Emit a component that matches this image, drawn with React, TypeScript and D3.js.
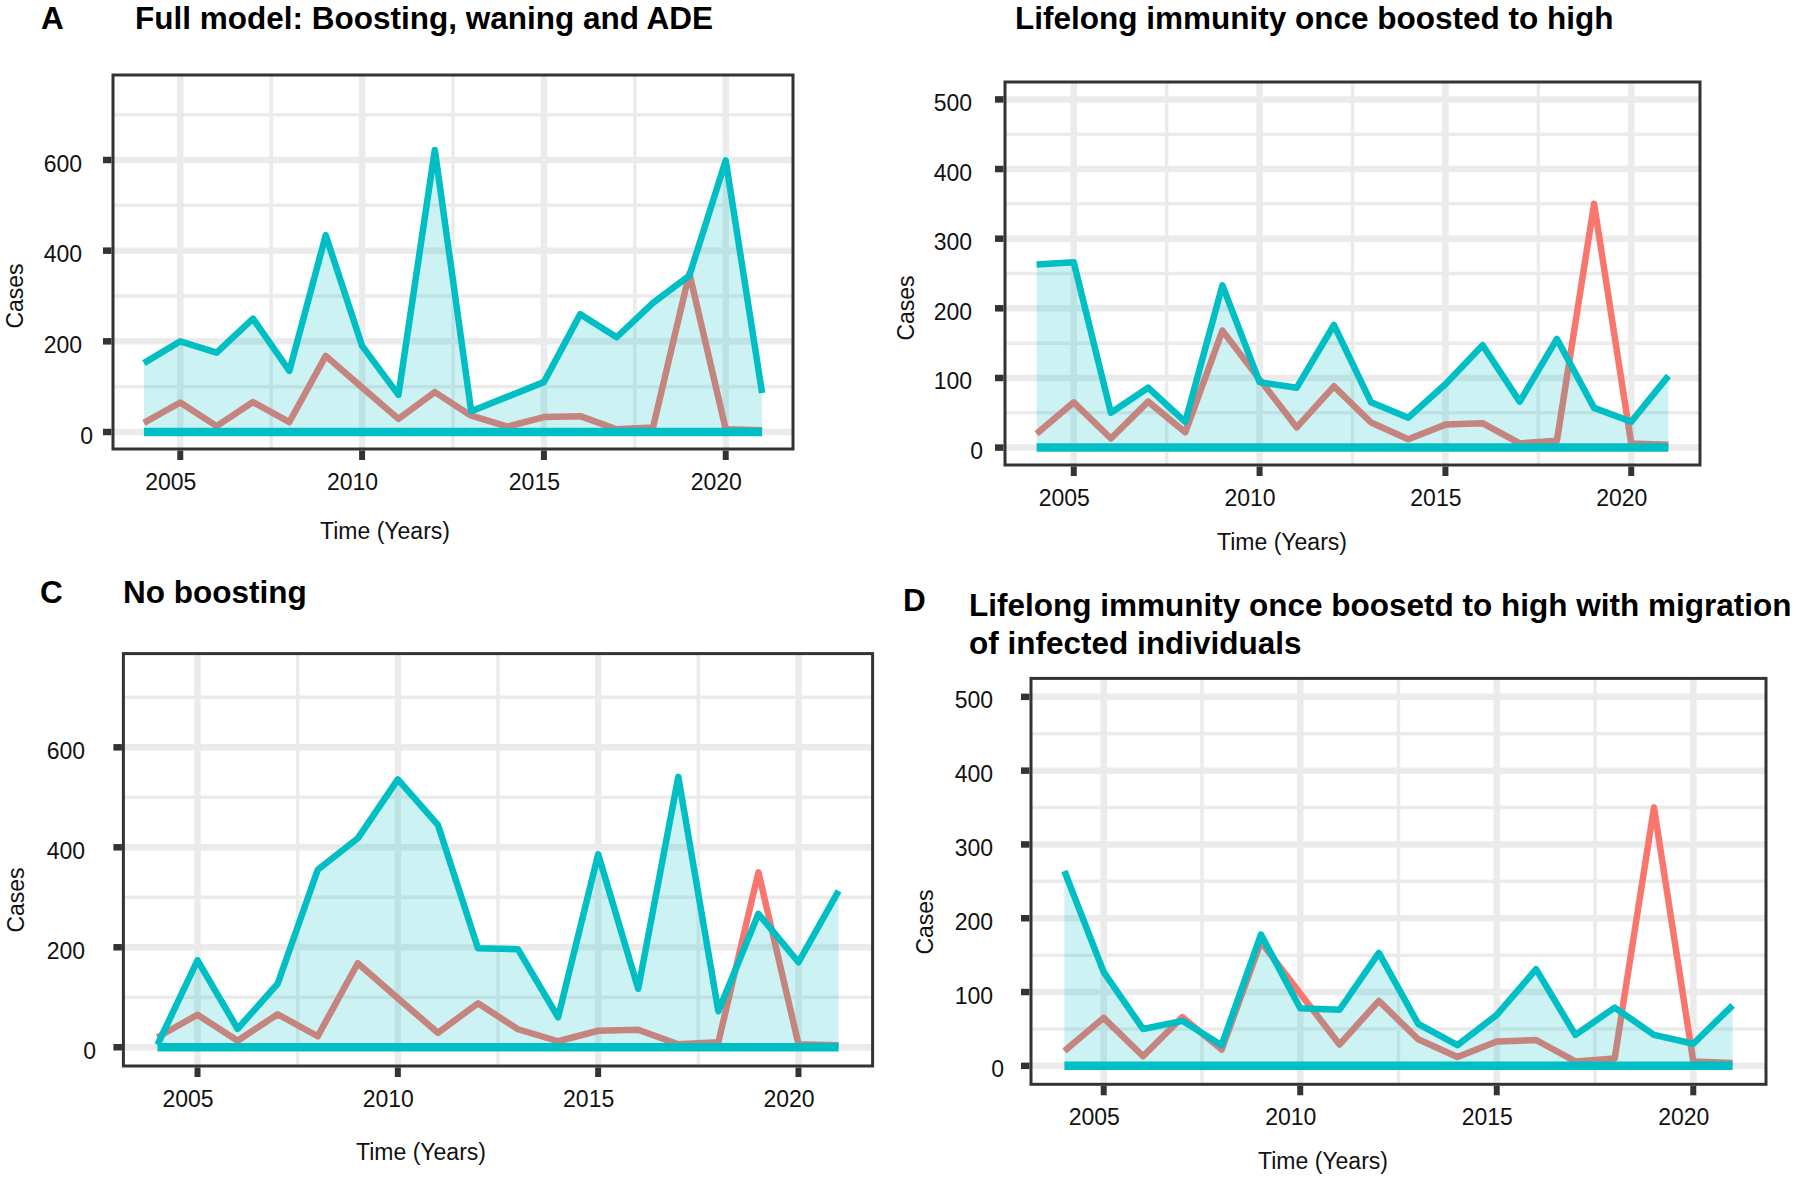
import React from "react";
import * as d3 from "d3";

// ---------- data ----------
const years = [2004, 2005, 2006, 2007, 2008, 2009, 2010, 2011, 2012, 2013, 2014, 2015, 2016, 2017, 2018, 2019, 2020, 2021];
const observedCases = [20, 65, 13, 66, 22, 168, 98, 29, 88, 36, 12, 33, 35, 6, 10, 350, 6, 4];
const modelFull = [152, 200, 175, 250, 135, 434, 190, 82, 622, 46, 78, 110, 260, 209, 285, 345, 599, 86];
const modelLifelong = [263, 266, 50, 86, 37, 233, 94, 86, 176, 65, 43, 91, 147, 66, 156, 57, 37, 103];
const modelNoBoost = [5, 174, 37, 127, 355, 418, 536, 445, 198, 196, 60, 386, 117, 541, 72, 267, 170, 313];
const modelMigration = [264, 127, 50, 61, 28, 178, 78, 76, 153, 57, 28, 69, 131, 42, 79, 42, 30, 82];
const zeroLine = [0, 0, 0, 0, 0, 0, 0, 0, 0, 0, 0, 0, 0, 0, 0, 0, 0, 0];

const xTicks = [2005, 2010, 2015, 2020];
const xMinor = [2007.5, 2012.5, 2017.5];
const yTicksWide = [0, 200, 400, 600];
const yMinorWide = [100, 300, 500, 700];
const yTicksNarrow = [0, 100, 200, 300, 400, 500];
const yMinorNarrow = [50, 150, 250, 350, 450];

const TEAL = "#00BFC4";
const RED = "#F8766D";
const GRID = "#EBEBEB";
const DARK = "#333333";
const FONT = "'Liberation Sans', Arial, Helvetica, sans-serif";

type Panel = {
  letter: string; letterX: number; letterY: number;
  title: string[]; titleX: number; titleY: number[];
  left: number; right: number; top: number; bottom: number;
  yMax: number; yTicks: number[]; yMinor: number[];
  model: number[];
  yLabelRight: number;
  casesX: number; casesY: number; timeX: number; timeY: number;
};

const panels: Panel[] = [
  {
    letter: "A", letterX: 41, letterY: 29,
    title: ["Full model: Boosting, waning and ADE"], titleX: 135, titleY: [29],
    left: 113, right: 793, top: 75, bottom: 449,
    yMax: 750, yTicks: yTicksWide, yMinor: yMinorWide, model: modelFull,
    yLabelRight: 82, casesX: 23, casesY: 296, timeX: 385, timeY: 539,
  },
  {
    letter: "", letterX: 0, letterY: 0,
    title: ["Lifelong immunity once boosted to high"], titleX: 1015, titleY: [29],
    left: 1005, right: 1700, top: 82, bottom: 465,
    yMax: 500, yTicks: yTicksNarrow, yMinor: yMinorNarrow, model: modelLifelong,
    yLabelRight: 972, casesX: 914, casesY: 308, timeX: 1282, timeY: 550,
  },
  {
    letter: "C", letterX: 40, letterY: 603,
    title: ["No boosting"], titleX: 123, titleY: [603],
    left: 123.4, right: 872.6, top: 653.6, bottom: 1066,
    yMax: 750, yTicks: yTicksWide, yMinor: yMinorWide, model: modelNoBoost,
    yLabelRight: 85, casesX: 24, casesY: 900, timeX: 421, timeY: 1160,
  },
  {
    letter: "D", letterX: 903, letterY: 611,
    title: ["Lifelong immunity once boosetd to high with migration", "of infected individuals"],
    titleX: 969, titleY: [616, 654],
    left: 1031, right: 1766, top: 678.4, bottom: 1084.3,
    yMax: 500, yTicks: yTicksNarrow, yMinor: yMinorNarrow, model: modelMigration,
    yLabelRight: 993, casesX: 933, casesY: 922, timeX: 1323, timeY: 1169,
  },
];

function PanelView({ p }: { p: Panel }) {
  const xr = years[years.length - 1] - years[0];
  const x = d3.scaleLinear()
    .domain([years[0] - 0.05 * xr, years[years.length - 1] + 0.05 * xr])
    .range([p.left, p.right]);
  const y = d3.scaleLinear()
    .domain([-0.05 * p.yMax, p.yMax * 1.05])
    .range([p.bottom, p.top]);

  const idx = years.map((_, i) => i);
  const line = (vals: number[]) =>
    d3.line<number>().x((i) => x(years[i])).y((i) => y(vals[i]))(idx) || "";
  const area = d3.area<number>()
    .x((i) => x(years[i]))
    .y0((i) => y(zeroLine[i]))
    .y1((i) => y(p.model[i]))(idx) || "";

  const w = p.right - p.left;
  const h = p.bottom - p.top;
  const cid = `clip-${Math.round(p.left)}-${Math.round(p.top)}`;

  return (
    <g>
      {/* titles */}
      {p.letter && (
        <text x={p.letterX} y={p.letterY} fontSize={31.5} fontWeight="bold" fill="#000">{p.letter}</text>
      )}
      {p.title.map((t, i) => (
        <text key={i} x={p.titleX} y={p.titleY[i]} fontSize={31.5} fontWeight="bold" fill="#000">{t}</text>
      ))}

      {/* panel background + grid */}
      <rect x={p.left} y={p.top} width={w} height={h} fill="#fff" />
      <clipPath id={cid}>
        <rect x={p.left} y={p.top} width={w} height={h} />
      </clipPath>
      <g clipPath={`url(#${cid})`}>
        {p.yMinor.map((v) => (
          <line key={"ym" + v} x1={p.left} x2={p.right} y1={y(v)} y2={y(v)} stroke={GRID} strokeWidth={3.5} />
        ))}
        {xMinor.map((v) => (
          <line key={"xm" + v} x1={x(v)} x2={x(v)} y1={p.top} y2={p.bottom} stroke={GRID} strokeWidth={3.5} />
        ))}
        {p.yTicks.map((v) => (
          <line key={"yM" + v} x1={p.left} x2={p.right} y1={y(v)} y2={y(v)} stroke={GRID} strokeWidth={6.5} />
        ))}
        {xTicks.map((v) => (
          <line key={"xM" + v} x1={x(v)} x2={x(v)} y1={p.top} y2={p.bottom} stroke={GRID} strokeWidth={6.5} />
        ))}

        {/* observed (red) line, drawn under the model ribbon */}
        <path d={line(observedCases)} fill="none" stroke={RED} strokeWidth={6.5} strokeLinejoin="round" />
        {/* model ribbon */}
        <path d={area} fill={TEAL} fillOpacity={0.2} stroke="none" />
        {/* model line */}
        <path d={line(p.model)} fill="none" stroke={TEAL} strokeWidth={6.5} strokeLinejoin="round" />
        {/* zero line */}
        <path d={line(zeroLine)} fill="none" stroke={TEAL} strokeWidth={8.5} />
      </g>

      {/* border */}
      <rect x={p.left} y={p.top} width={w} height={h} fill="none" stroke={DARK} strokeWidth={3} />

      {/* y ticks */}
      {p.yTicks.map((v) => (
        <g key={"yt" + v}>
          <line x1={p.left - 10} x2={p.left - 1.5} y1={y(v)} y2={y(v)} stroke={DARK} strokeWidth={6.5} />
          <text x={p.yLabelRight + (v === 0 ? 11 : 0)} y={y(v) + 11.5} textAnchor="end" fontSize={23} fill="#111">{v}</text>
        </g>
      ))}
      {/* x ticks */}
      {xTicks.map((v) => (
        <g key={"xt" + v}>
          <line x1={x(v)} x2={x(v)} y1={p.bottom + 1.5} y2={p.bottom + 11} stroke={DARK} strokeWidth={6} />
          <text x={x(v) - 9.5} y={p.bottom + 41} textAnchor="middle" fontSize={23} fill="#111">{v}</text>
        </g>
      ))}

      {/* axis titles */}
      <text x={p.timeX} y={p.timeY} textAnchor="middle" fontSize={23} fill="#111">Time (Years)</text>
      <text transform={`translate(${p.casesX},${p.casesY}) rotate(-90)`} textAnchor="middle" fontSize={23} fill="#111">Cases</text>
    </g>
  );
}

export default function App() {
  return (
    <svg
      width={1800}
      height={1179}
      viewBox="0 0 1800 1179"
      style={{ position: "absolute", left: 0, top: 0, background: "#fff", fontFamily: FONT }}
    >
      <rect x={0} y={0} width={1800} height={1179} fill="#fff" />
      {panels.map((p, i) => (
        <PanelView key={i} p={p} />
      ))}
    </svg>
  );
}
